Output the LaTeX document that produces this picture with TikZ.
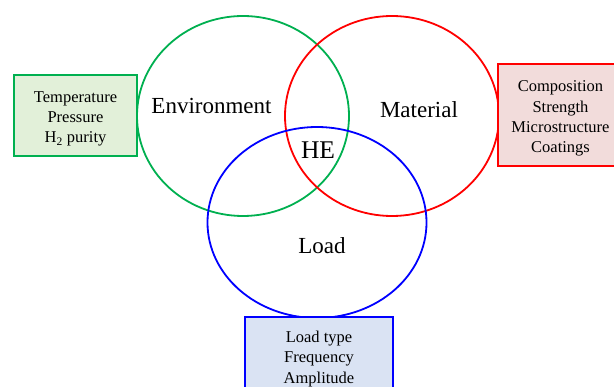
\documentclass[tikz,border=0pt]{standalone}
\usepackage{fontspec}
\setmainfont{Liberation Serif}
\usetikzlibrary{shapes.geometric}
\definecolor{envgreen}{HTML}{00B050}
\definecolor{envfill}{HTML}{E2F0D9}
\definecolor{matred}{HTML}{FF0000}
\definecolor{matfill}{HTML}{F2DCDB}
\definecolor{loadblue}{HTML}{0000FF}
\definecolor{loadfill}{HTML}{DAE3F3}
\begin{document}
\begin{tikzpicture}[x=1pt,y=-1pt,
  ring/.style={ellipse,draw,line width=1.8pt,inner sep=0pt},
  infobox/.style={rectangle,draw,line width=1.8pt,inner sep=0pt},
  boxtext/.style={align=center,font=\fontsize{16.5}{20.2}\selectfont,inner sep=0pt},
  label/.style={anchor=base,font=\fontsize{23}{27}\selectfont,inner sep=0pt}]
\useasboundingbox (0,0) rectangle (614,387);
\clip (0,0) rectangle (614,387);
\fill[white] (0,0) rectangle (614,387);
% the three overlapping factor rings
\node[ring,draw=envgreen,minimum width=212pt,minimum height=200pt] (env) at (243,116) {};
\node[ring,draw=matred,minimum width=214pt,minimum height=200pt] (mat) at (392,116) {};
\node[ring,draw=loadblue,minimum width=219pt,minimum height=191pt] (load) at (317,222.5) {};
% ring labels
\node[label] (envlab) at (211.5,114) {Environment};
\node[label] (matlab) at (419,118) {Material};
\node[label,font=\fontsize{25.5}{30}\selectfont] (he) at (318,159) {HE};
\node[label] (loadlab) at (322,254) {Load};
% factor boxes
\node[infobox,draw=envgreen,fill=envfill,minimum width=123pt,minimum height=81pt] (envbox) at (75.5,115.5) {};
\node[boxtext] (envtext) at (75.5,119) {Temperature\\Pressure\\H\textsubscript{2} purity};
\node[infobox,draw=matred,fill=matfill,minimum width=124pt,minimum height=102pt] (matbox) at (560,115) {};
\node[boxtext] (mattext) at (560.5,118.5) {Composition\\Strength\\Microstructure\\Coatings};
\node[infobox,draw=loadblue,fill=loadfill,minimum width=148pt,minimum height=90pt] (loadbox) at (319,362) {};
\node[boxtext] (loadtext) at (319,359) {Load type\\Frequency\\Amplitude};
\end{tikzpicture}
\end{document}
